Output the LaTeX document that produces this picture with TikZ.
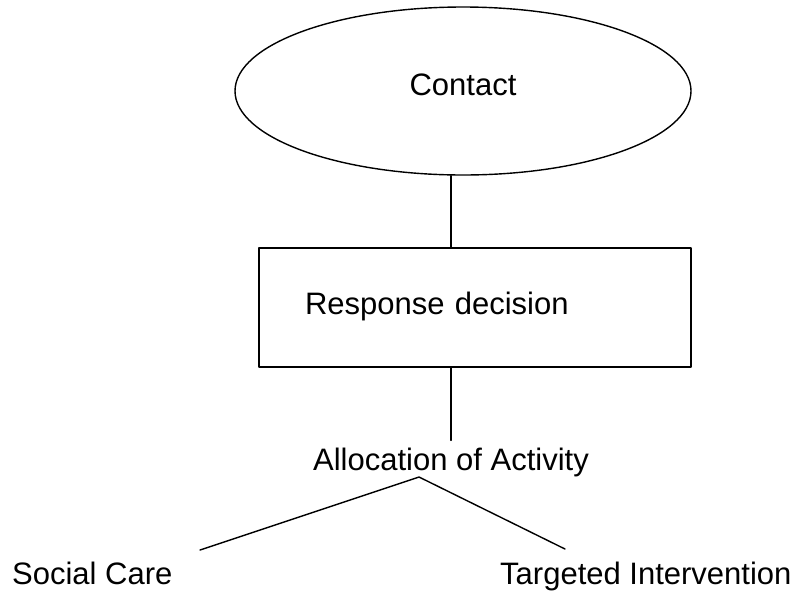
\documentclass[tikz,border=0pt]{standalone}
\usepackage{fontspec}
\setmainfont{Liberation Sans}
\usetikzlibrary{shapes.geometric,calc}
\tikzset{
  every picture/.style={line cap=round, line join=round},
  every node/.style={font=\fontsize{31}{37}\selectfont, text=black},
  link/.style={draw=black, line width=1.4pt},
  startnode/.style={
    ellipse,
    draw=black,
    line width=1.4pt,
    minimum width=456pt,
    minimum height=168pt,
    inner sep=0pt,
    text height=22pt,
    text depth=14pt
  },
  decisionbox/.style={
    rectangle,
    draw=black,
    line width=1.4pt,
    minimum width=432pt,
    minimum height=119pt,
    text width=340pt,
    inner xsep=46pt,
    align=left,
    text height=22.6pt,
    text depth=9pt
  },
  outcome/.style={inner sep=0pt}
}

\begin{document}
\begin{tikzpicture}[x=1pt, y=-1pt]
  \useasboundingbox (0,0) rectangle (800,590);

  % Contact at the top
  \node[startnode] (contact) at (463,91) {Contact};

  % Response decision box
  \node[decisionbox] (response) at (475,307.5) {Response decision};

  % Allocation and the two outcomes
  \node[outcome, anchor=base] (allocation) at (451,470) {Allocation of Activity};
  \node[outcome, anchor=base west] (socialcare) at (12,584) {Social Care};
  \node[outcome, anchor=base west] (targeted) at (500,584) {Targeted Intervention};
  \coordinate (fork) at (419,477);
  \coordinate (socialend) at (200,550);
  \coordinate (targetedend) at (565,549);

  % Connectors
  \draw[link] (allocation.north |- contact.south) -- (allocation.north |- response.north);
  \draw[link] (allocation.north |- response.south) -- ([yshift=7pt]allocation.north);
  \draw[link] (socialend) -- (fork) -- (targetedend);
\end{tikzpicture}
\end{document}
